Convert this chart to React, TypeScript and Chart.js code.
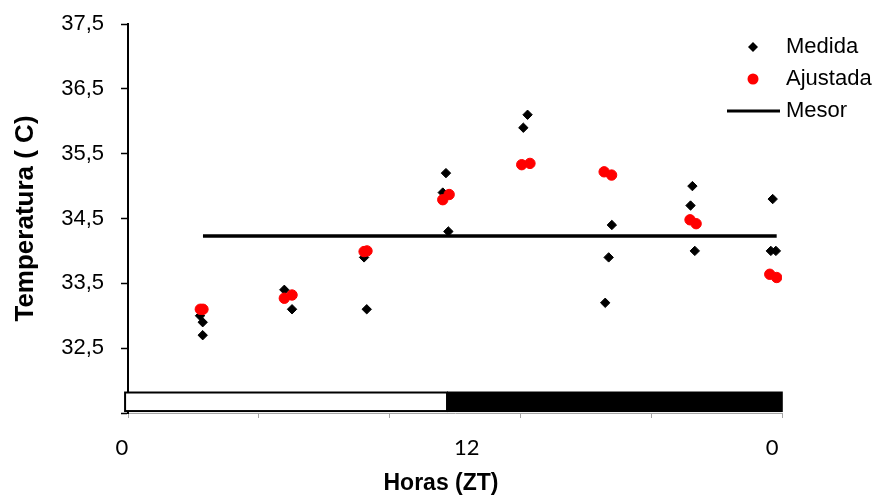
import React, { useEffect, useRef } from 'react';
import { Chart, registerables } from 'chart.js';

Chart.register(...registerables);

// ---- axis ranges (hours ZT / temperature) ----
const X_MIN = 0;
const X_MAX = 24.6;
const Y_MIN = 31.5;
const Y_MAX = 37.5;

// ---- series ----
const medidaX = [2.71, 2.81, 2.81, 5.88, 6.17, 8.88, 8.98, 11.96, 11.84, 12.05, 14.87, 15.03, 18.2, 18.08, 17.95, 21.23, 21.16, 21.32, 24.25, 24.18, 24.37];
const medidaY = [33.0, 32.9, 32.7, 33.4, 33.1, 33.9, 33.1, 35.2, 34.9, 34.3, 35.9, 36.1, 34.4, 33.9, 33.2, 35.0, 34.7, 34.0, 34.8, 34.0, 34.0];
const ajustadaX = [2.72, 2.82, 5.88, 6.17, 8.88, 8.99, 11.84, 12.08, 14.81, 15.12, 17.91, 18.19, 21.14, 21.37, 24.14, 24.4];
const ajustadaY = [33.1, 33.1, 33.27, 33.32, 33.99, 34.0, 34.79, 34.87, 35.33, 35.35, 35.22, 35.17, 34.48, 34.42, 33.64, 33.59];
const mesorX = [2.82, 24.4];
const mesorValue = 34.23;

// ---- ticks ----
const xGridTicks = [0, 4.92, 9.84, 14.76, 19.68, 24.6];
const xLabelValues = [0, 12.97, 24.45];
const xLabels = ['0', '12', '0'];
const yTickValues = [31.5, 32.5, 33.5, 34.5, 35.5, 36.5, 37.5];
const yTickLabels = ['', '32,5', '33,5', '34,5', '35,5', '36,5', '37,5'];

// ---- light / dark phase bar (hours) ----
const lightPhase = [-0.11, 12];
const darkPhase = [12, 24.63];
const phaseBarY = [31.53, 31.816];

const FONT = '"Liberation Sans", Arial, sans-serif';

const phaseBarPlugin = {
  id: 'phaseBar',
  afterDraw(chart: any) {
    const { ctx } = chart;
    const xs = chart.scales.x;
    const ys = chart.scales.y;
    const yTop = ys.getPixelForValue(phaseBarY[1]);
    const yBot = ys.getPixelForValue(phaseBarY[0]);
    const lx0 = xs.getPixelForValue(lightPhase[0]);
    const lx1 = xs.getPixelForValue(lightPhase[1]);
    const dx0 = xs.getPixelForValue(darkPhase[0]);
    const dx1 = xs.getPixelForValue(darkPhase[1]);
    ctx.save();
    ctx.fillStyle = '#000';
    ctx.fillRect(dx0, yTop - 1, dx1 - dx0, yBot - yTop + 2);
    ctx.fillStyle = '#fff';
    ctx.fillRect(lx0, yTop, lx1 - lx0, yBot - yTop);
    ctx.strokeStyle = '#000';
    ctx.lineWidth = 2;
    ctx.strokeRect(lx0, yTop, lx1 - lx0, yBot - yTop);
    ctx.restore();
  },
};

const legendPlugin = {
  id: 'customLegend',
  afterDraw(chart: any) {
    const { ctx } = chart;
    const ds = chart.data.datasets;
    const ys = [47, 79, 111];
    const mx = 753;
    const tx = 786;
    ctx.save();
    ds.forEach((d: any, i: number) => {
      const y = ys[i];
      if (d.showLine) {
        ctx.strokeStyle = d.borderColor;
        ctx.lineWidth = 3;
        ctx.beginPath();
        ctx.moveTo(727, y);
        ctx.lineTo(780, y);
        ctx.stroke();
      } else if (d.pointStyle === 'rectRot') {
        ctx.fillStyle = d.backgroundColor;
        ctx.beginPath();
        ctx.moveTo(mx - 5, y);
        ctx.lineTo(mx, y - 5);
        ctx.lineTo(mx + 5, y);
        ctx.lineTo(mx, y + 5);
        ctx.closePath();
        ctx.fill();
      } else {
        ctx.fillStyle = d.backgroundColor;
        ctx.beginPath();
        ctx.arc(mx, y, 5.5, 0, Math.PI * 2);
        ctx.fill();
      }
      ctx.fillStyle = '#000';
      ctx.font = `22px ${FONT}`;
      ctx.textBaseline = 'middle';
      ctx.textAlign = 'left';
      ctx.fillText(d.label, tx, y);
    });
    ctx.restore();
  },
};

export default function App() {
  const ref = useRef<HTMLCanvasElement>(null);

  useEffect(() => {
    if (!ref.current) return;
    const chart = new Chart(ref.current, {
      type: 'scatter',
      data: {
        datasets: [
          {
            label: 'Medida',
            data: medidaX.map((x, i) => ({ x, y: medidaY[i] })),
            pointStyle: 'rectRot',
            pointRadius: 4.7,
            backgroundColor: '#000',
            borderColor: '#000',
            borderWidth: 1,
            order: 1,
          },
          {
            label: 'Ajustada',
            data: ajustadaX.map((x, i) => ({ x, y: ajustadaY[i] })),
            pointStyle: 'circle',
            pointRadius: 5.2,
            backgroundColor: '#ff0000',
            borderColor: '#ff0000',
            borderWidth: 1,
            order: 0,
          },
          {
            label: 'Mesor',
            data: mesorX.map((x) => ({ x, y: mesorValue })),
            showLine: true,
            pointRadius: 0,
            borderColor: '#000',
            backgroundColor: '#000',
            borderWidth: 3.5,
            order: 2,
          },
        ] as any,
      },
      options: {
        animation: false,
        responsive: false,
        maintainAspectRatio: false,
        layout: { padding: { top: 24, right: 0, bottom: 0, left: 0 } },
        plugins: {
          legend: { display: false },
          tooltip: { enabled: false },
          title: {
            display: true,
            text: 'Horas (ZT)',
            position: 'bottom',
            align: 'center',
            color: '#000',
            font: { family: FONT, size: 23, weight: 'bold', lineHeight: 1 },
            padding: { top: 0, bottom: 0 },
          },
        },
        scales: {
          x: {
            type: 'linear',
            min: X_MIN,
            max: X_MAX,
            afterBuildTicks: (scale: any) => {
              const vals = Array.from(new Set([...xGridTicks, ...xLabelValues])).sort((a, b) => a - b);
              scale.ticks = vals.map((v) => ({ value: v }));
            },
            afterFit: (scale: any) => {
              scale.height = 59;
              scale.paddingLeft = 0;
              scale.paddingRight = 0;
            },
            ticks: {
              autoSkip: false,
              maxRotation: 0,
              padding: 17,
              labelOffset: -6,
              color: '#000',
              font: { family: 'Lato, "Open Sans", sans-serif', size: 22 },
              callback: (value: any) => {
                const idx = xLabelValues.indexOf(Number(value));
                return idx >= 0 ? xLabels[idx] : '';
              },
            },
            grid: {
              drawOnChartArea: false,
              drawTicks: true,
              tickLength: 5,
              tickColor: (ctx: any) =>
                ctx.tick && xGridTicks.includes(ctx.tick.value) ? '#a6a6a6' : 'rgba(0,0,0,0)',
              tickWidth: 1,
            },
            border: { display: true, color: '#a6a6a6', width: 1 },
          },
          y: {
            type: 'linear',
            min: Y_MIN,
            max: Y_MAX,
            afterBuildTicks: (scale: any) => {
              scale.ticks = yTickValues.map((v) => ({ value: v }));
            },
            afterFit: (scale: any) => {
              scale.width = 128;
              scale.paddingTop = 0;
              scale.paddingBottom = 0;
            },
            ticks: {
              padding: 17,
              color: '#000',
              font: { family: FONT, size: 22 },
              callback: (_v: any, i: number) => yTickLabels[i],
            },
            grid: {
              drawOnChartArea: false,
              drawTicks: true,
              tickLength: 7,
              tickColor: '#000',
              tickWidth: 1.5,
            },
            border: { display: true, color: '#000', width: 2 },
            title: {
              display: true,
              text: 'Temperatura ( C)',
              color: '#000',
              font: { family: FONT, size: 26, weight: 'bold' },
              padding: { top: 10, bottom: 0 },
            },
          },
          yRight: {
            type: 'linear',
            position: 'right',
            display: true,
            min: Y_MIN,
            max: Y_MAX,
            ticks: { display: false },
            grid: { display: false, drawTicks: false },
            border: { display: false },
            afterFit: (scale: any) => {
              scale.width = 100;
              scale.paddingTop = 0;
              scale.paddingBottom = 0;
            },
          },
        },
      } as any,
      plugins: [phaseBarPlugin, legendPlugin],
    });
    return () => chart.destroy();
  }, []);

  return (
    <div style={{ position: 'fixed', left: 0, top: 0, width: 882, height: 495, background: '#fff' }}>
      <canvas ref={ref} width={882} height={495} style={{ display: 'block', width: 882, height: 495 }} />
    </div>
  );
}
